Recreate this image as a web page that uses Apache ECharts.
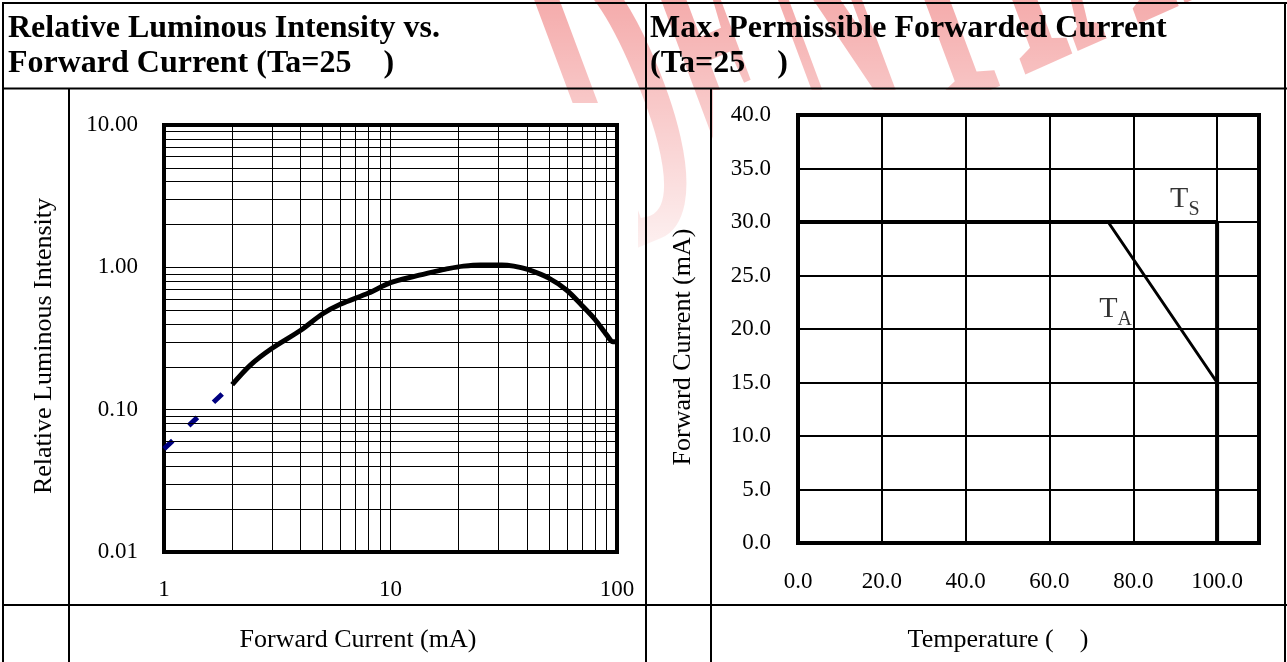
<!DOCTYPE html>
<html>
<head>
<meta charset="utf-8">
<script src="https://cdn.jsdelivr.net/npm/echarts@6/dist/echarts.min.js"></script>
<style>
  html, body { margin: 0; padding: 0; background: #fff; }
  #chart { width: 1287px; height: 662px; }
</style>
</head>
<body>
<div id="chart"></div>
<script>
// Left: relative luminous intensity vs forward current (log-log)
const IF_SOLID = [2, 2.4, 3, 4, 5, 6, 8, 10, 13, 16, 18, 21, 25, 31, 35, 40, 50, 60, 70, 80, 90, 96, 100];
const IV_SOLID = [0.15, 0.205, 0.27, 0.36, 0.47, 0.55, 0.66, 0.78, 0.87, 0.94, 0.98, 1.02, 1.04, 1.04, 1.02, 0.97, 0.84, 0.69, 0.54, 0.43, 0.335, 0.30, 0.30];
const IF_DASH = [1, 2];
const IV_DASH = [0.053, 0.15];
const X_MINOR = [2, 3, 4, 5, 6, 7, 8, 9, 20, 30, 40, 50, 60, 70, 80, 90];
const Y_MINOR = [0.02, 0.03, 0.04, 0.05, 0.06, 0.07, 0.08, 0.09,
                 0.2, 0.3, 0.4, 0.5, 0.6, 0.7, 0.8, 0.9,
                 2, 3, 4, 5, 6, 7, 8, 9];

// Right: max permissible forward current vs temperature
const TEMP_TS = [0, 100, 100];
const CURR_TS = [30, 30, 0];
const TEMP_TA = [0, 74, 100, 100];
const CURR_TA = [30, 30, 15, 0];
const CURVE_TAGS = ['S', 'A'];
const TAG_TEMP = [92.3, 75.8];
const TAG_CURR = [31.9, 21.6];

const SERIF = '"Liberation Serif", "Times New Roman", serif';
const pairs = (xs, ys) => xs.map((x, i) => [x, ys[i]]);

const chart = echarts.init(document.getElementById('chart'));

const axisLine = { lineStyle: { color: '#000', width: 4 } };
const tickLabel = { color: '#000', fontFamily: SERIF, fontSize: 23, margin: 26 };

function hline(y) {
  return { type: 'line', z: 10, silent: true, shape: { x1: 2, y1: y, x2: 1287, y2: y }, style: { stroke: '#000', lineWidth: 2 } };
}
function vline(x, y1) {
  return { type: 'line', z: 10, silent: true, shape: { x1: x, y1: y1, x2: x, y2: 662 }, style: { stroke: '#000', lineWidth: 2 } };
}
function label(text, x, y, size, opts) {
  return Object.assign({
    type: 'text', z: 10, silent: true, x: x, y: y,
    style: Object.assign({ text: text, fill: '#000', fontFamily: SERIF, fontSize: size, align: 'left', verticalAlign: 'middle' }, (opts && opts.style) || {})
  }, (opts && opts.el) || {});
}

const markFont = { fontFamily: SERIF, fontSize: 165, fontStyle: 'italic', fontWeight: 'bold' };

chart.setOption({
  animation: false,
  backgroundColor: '#fff',
  grid: [
    { left: 164, top: 125, width: 453, height: 427, show: true, borderColor: '#000', borderWidth: 4, backgroundColor: 'transparent', outerBoundsMode: 'none' },
    { left: 798, top: 115, width: 461, height: 428, show: true, borderColor: '#000', borderWidth: 4, backgroundColor: 'transparent', outerBoundsMode: 'none' }
  ],
  xAxis: [
    {
      gridIndex: 0, type: 'log', logBase: 10, min: 1, max: 100,
      axisLine: axisLine, axisTick: { show: false },
      axisLabel: Object.assign({}, tickLabel, { formatter: v => String(Math.round(v)) }),
      splitLine: { show: true, lineStyle: { color: '#000', width: 1 } }
    },
    {
      gridIndex: 1, type: 'value', min: 0, max: 110, interval: 20,
      axisLine: axisLine, axisTick: { show: false },
      axisLabel: Object.assign({}, tickLabel, { margin: 27, formatter: v => v > 100 ? '' : v.toFixed(1) }),
      splitLine: { show: true, lineStyle: { color: '#000', width: 2 } }
    }
  ],
  yAxis: [
    {
      gridIndex: 0, type: 'log', logBase: 10, min: 0.01, max: 10,
      axisLine: axisLine, axisTick: { show: false },
      axisLabel: Object.assign({}, tickLabel, { formatter: v => v.toFixed(2) }),
      splitLine: { show: true, lineStyle: { color: '#000', width: 1 } }
    },
    {
      gridIndex: 1, type: 'value', min: 0, max: 40, interval: 5,
      axisLine: axisLine, axisTick: { show: false },
      axisLabel: Object.assign({}, tickLabel, { margin: 27, formatter: v => v.toFixed(1) }),
      splitLine: { show: true, lineStyle: { color: '#000', width: 2 } }
    }
  ],
  series: [
    {
      // minor log grid lines
      type: 'line', xAxisIndex: 0, yAxisIndex: 0, data: [], z: 1, silent: true,
      markLine: {
        silent: true, symbol: 'none', animation: false,
        label: { show: false },
        lineStyle: { color: '#000', width: 1, type: 'solid', opacity: 1 },
        emphasis: { disabled: true },
        data: X_MINOR.map(v => ({ xAxis: v })).concat(Y_MINOR.map(v => ({ yAxis: v })))
      }
    },
    {
      type: 'line', xAxisIndex: 0, yAxisIndex: 0, z: 3, silent: true,
      data: pairs(IF_DASH, IV_DASH), symbol: 'none',
      lineStyle: { color: '#000080', width: 5, type: [12, 22], cap: 'butt' }
    },
    {
      type: 'line', xAxisIndex: 0, yAxisIndex: 0, z: 4, silent: true,
      data: pairs(IF_SOLID, IV_SOLID), symbol: 'none', smooth: 0.3,
      lineStyle: { color: '#000', width: 5 }
    },
    {
      type: 'line', xAxisIndex: 1, yAxisIndex: 1, z: 4, silent: true,
      data: pairs(TEMP_TS, CURR_TS), symbol: 'none',
      lineStyle: { color: '#000', width: 4 }
    },
    {
      type: 'line', xAxisIndex: 1, yAxisIndex: 1, z: 4, silent: true,
      data: pairs(TEMP_TA, CURR_TA), symbol: 'none',
      lineStyle: { color: '#000', width: 3 }
    },
    {
      type: 'scatter', xAxisIndex: 1, yAxisIndex: 1, z: 5, silent: true,
      symbolSize: 1, itemStyle: { color: 'transparent' },
      data: CURVE_TAGS.map((n, i) => ({ name: n, value: [TAG_TEMP[i], TAG_CURR[i]] })),
      label: {
        show: true, position: 'inside',
        formatter: p => '{t|T}{s|' + p.name + '}',
        rich: {
          t: { fontFamily: SERIF, fontSize: 30, color: '#000', lineHeight: 36, verticalAlign: 'top' },
          s: { fontFamily: SERIF, fontSize: 20, color: '#000', lineHeight: 20, verticalAlign: 'bottom' }
        }
      }
    }
  ],
  graphic: {
    elements: [
      // watermark: only its right half shows, faded toward the bottom
      {
        type: 'text', z: -3, silent: true, x: 185, y: 572, rotation: 0.42, scaleY: 2.8,
        style: Object.assign({
          text: '{h|CONFI}{v|DENTIAL}', align: 'left', verticalAlign: 'bottom',
          rich: {
            h: Object.assign({ fill: 'rgba(255,255,255,0)' }, markFont),
            v: Object.assign({ fill: 'rgba(232,60,60,0.5)' }, markFont)
          }
        }, markFont)
      },
      {
        type: 'rect', z: -2, silent: true, shape: { x: 0, y: 0, width: 1287, height: 300 },
        style: { fill: { type: 'linear', x: 0, y: 0, x2: 0, y2: 1, colorStops: [{ offset: 0, color: 'rgba(255,255,255,0.15)' }, { offset: 1, color: 'rgba(255,255,255,1)' }] } }
      },
      { type: 'rect', z: -2, silent: true, shape: { x: 0, y: 299, width: 1287, height: 363 }, style: { fill: '#fff' } },
      { type: 'rect', z: -1, silent: true, shape: { x: 72, y: 103, width: 566, height: 500 }, style: { fill: '#fff' } },
      { type: 'rect', z: -1, silent: true, shape: { x: 713, y: 90, width: 571, height: 514 }, style: { fill: '#fff' } },

      // table
      hline(3), hline(88.5), hline(605),
      vline(3, 2), vline(646, 2), vline(1285, 2), vline(69, 88), vline(711, 88),

      label('Relative Luminous Intensity vs.', 8, 28.5, 32, { style: { fontWeight: 'bold' } }),
      label('Forward Current (Ta=25    )', 8, 64, 32, { style: { fontWeight: 'bold' } }),
      label('Max. Permissible Forwarded Current', 650, 28.5, 32, { style: { fontWeight: 'bold' } }),
      label('(Ta=25    )', 650, 64, 32, { style: { fontWeight: 'bold' } }),

      label('Relative Luminous Intensity', 44, 346, 26, { style: { align: 'center' }, el: { rotation: Math.PI / 2 } }),
      label('Forward Current (mA)', 683, 347, 26, { style: { align: 'center' }, el: { rotation: Math.PI / 2 } }),
      label('Forward Current (mA)', 358, 640, 26, { style: { align: 'center' } }),
      label('Temperature (    )', 998, 640, 26, { style: { align: 'center' } })
    ]
  }
});
</script>
</body>
</html>
